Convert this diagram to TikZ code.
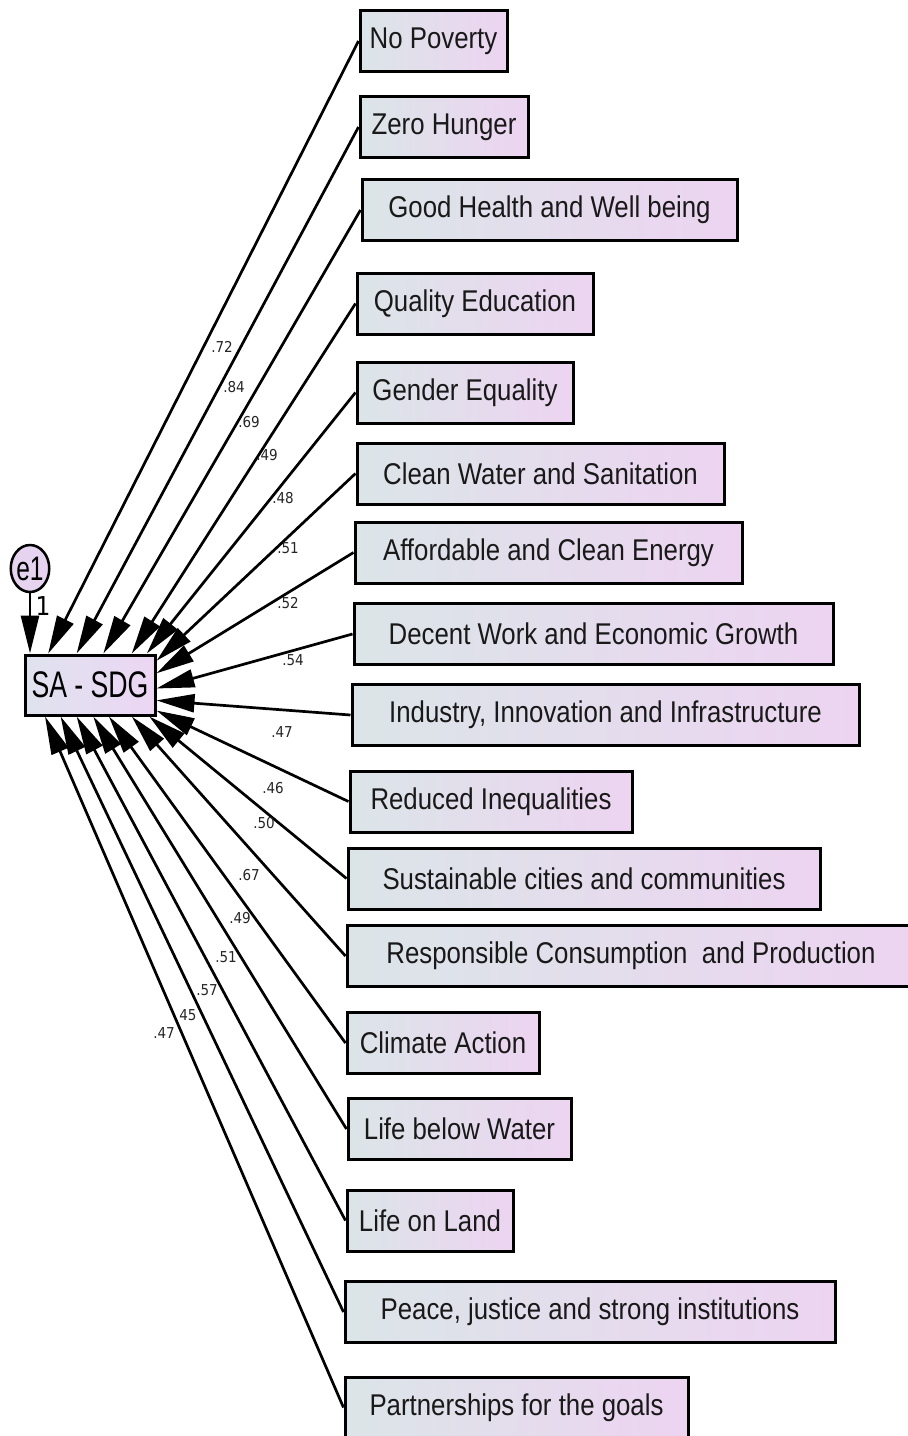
\documentclass[tikz,border=0pt]{standalone}
\usepackage{fontspec}
\newfontfamily\boxfont[FakeStretch=0.86]{Liberation Sans}
\newfontfamily\narrowfont[FakeStretch=0.72]{Liberation Sans}
\newfontfamily\coeffont[FakeStretch=0.9]{DejaVu Sans}
\usepackage{xcolor}
\usepackage{tikz}
\usetikzlibrary{arrows.meta}
\usetikzlibrary{shapes.geometric}

\definecolor{boxleft}{HTML}{DBE5E8}
\definecolor{boxright}{HTML}{EDD4F1}
\definecolor{latleft}{HTML}{DFE3EE}
\definecolor{latright}{HTML}{ECD6F4}
\definecolor{errfill}{HTML}{E6D3EF}

\tikzset{
	goal/.style={draw, line width=3pt, left color=boxleft, right color=boxright,
		text=black!90, font=\boxfont\fontsize{30}{36}\selectfont,
		inner sep=0pt, minimum height=61pt},
	coef/.style={font=\coeffont\fontsize{15}{17}\selectfont, inner sep=0pt, text=black!85},
	link/.style={line width=2.7pt, -{Triangle[length=38pt,width=18pt]}},
}

\begin{document}
\begin{tikzpicture}[x=1pt,y=-1pt]
		\clip (0,0) rectangle (908,1436);
		\fill[white] (0,0) rectangle (908,1436);
		% latent and error
		\node[draw, line width=3pt, left color=latleft, right color=latright,
			  minimum width=130pt, minimum height=60pt, inner sep=0pt,
			  font=\narrowfont\fontsize{37}{40}\selectfont] (sa) at (90,685) {SA - SDG};
		\node[ellipse, draw, line width=2.5pt, fill=errfill, minimum width=34pt,
			  minimum height=47pt, inner sep=0pt,
			  font=\narrowfont\fontsize{34}{36}\selectfont] (e1) at (30,568.5) {e1};
		\draw[link] (e1.south) -- (e1.south |- sa.north);
		\node[font=\coeffont\fontsize{26}{28}\selectfont, inner sep=0pt] (one) at (43,606) {1};
		% the 17 goals
		\node[goal, minimum width=147pt] (g1) at (433.5,41) {No Poverty};
		\node[goal, minimum width=168pt] (g2) at (444,127) {Zero Hunger};
		\node[goal, minimum width=375pt] (g3) at (549.5,210) {Good Health and Well being};
		\node[goal, minimum width=236pt] (g4) at (475,303.5) {Quality Education};
		\node[goal, minimum width=216pt] (g5) at (465,392.5) {Gender Equality};
		\node[goal, minimum width=367pt] (g6) at (540.5,473.5) {Clean Water and Sanitation};
		\node[goal, minimum width=387pt] (g7) at (548.5,552.5) {Affordable and Clean Energy};
		\node[goal, minimum width=479pt] (g8) at (593.5,634) {Decent Work and Economic Growth};
		\node[goal, minimum width=507pt] (g9) at (605.5,715) {Industry, Innovation and Infrastructure};
		\node[goal, minimum width=282pt] (g10) at (491,801.5) {Reduced Inequalities};
		\node[goal, minimum width=472pt] (g11) at (584,878.5) {Sustainable cities and communities};
		\node[goal, minimum width=568pt] (g12) at (631,956) {Responsible Consumption\ \ and Production};
		\node[goal, minimum width=192pt] (g13) at (443,1043) {Climate Action};
		\node[goal, minimum width=223pt] (g14) at (459.5,1129) {Life below Water};
		\node[goal, minimum width=166pt] (g15) at (430,1220.5) {Life on Land};
		\node[goal, minimum width=490pt] (g16) at (590,1312) {Peace, justice and strong institutions};
		\node[goal, minimum width=343pt] (g17) at (516.5,1407.5) {Partnerships for the goals};
		% loadings
		\draw[link] (g1.west) -- (sa.143);
		\draw[link] (g2.west) -- (sa.113);
		\draw[link] (g3.west) -- (sa.67);
		\draw[link] (g4.west) -- (sa.37);
		\draw[link] (g5.west) -- (sa.29);
		\draw[link] (g6.west) -- (sa.20);
		\draw[link] (g7.west) -- (sa.10);
		\draw[link] (g8.west) -- (sa.-3);
		\draw[link] (g9.west) -- (sa.-13);
		\draw[link] (g10.west) -- (sa.-21);
		\draw[link] (g11.west) -- (sa.-28);
		\draw[link] (g12.west) -- (sa.-37);
		\draw[link] (g13.west) -- (sa.-59);
		\draw[link] (g14.west) -- (sa.-84);
		\draw[link] (g15.west) -- (sa.-113);
		\draw[link] (g16.west) -- (sa.-133);
		\draw[link] (g17.west) -- (sa.-145);
		\node[coef] (c1) at (222,347) {.72};
		\node[coef] (c2) at (234,387) {.84};
		\node[coef] (c3) at (249,422) {.69};
		\node[coef] (c4) at (267,455) {.49};
		\node[coef] (c5) at (283,498) {.48};
		\node[coef] (c6) at (288,548) {.51};
		\node[coef] (c7) at (288,603) {.52};
		\node[coef] (c8) at (293,660) {.54};
		\node[coef] (c9) at (282,732) {.47};
		\node[coef] (c10) at (273,788) {.46};
		\node[coef] (c11) at (264,823) {.50};
		\node[coef] (c12) at (249,875) {.67};
		\node[coef] (c13) at (240,918) {.49};
		\node[coef] (c14) at (226,957) {.51};
		\node[coef] (c15) at (207,990) {.57};
		\node[coef] (c16) at (188,1015) {45};
		\node[coef] (c17) at (164,1033) {.47};
	\end{tikzpicture}
\end{document}
